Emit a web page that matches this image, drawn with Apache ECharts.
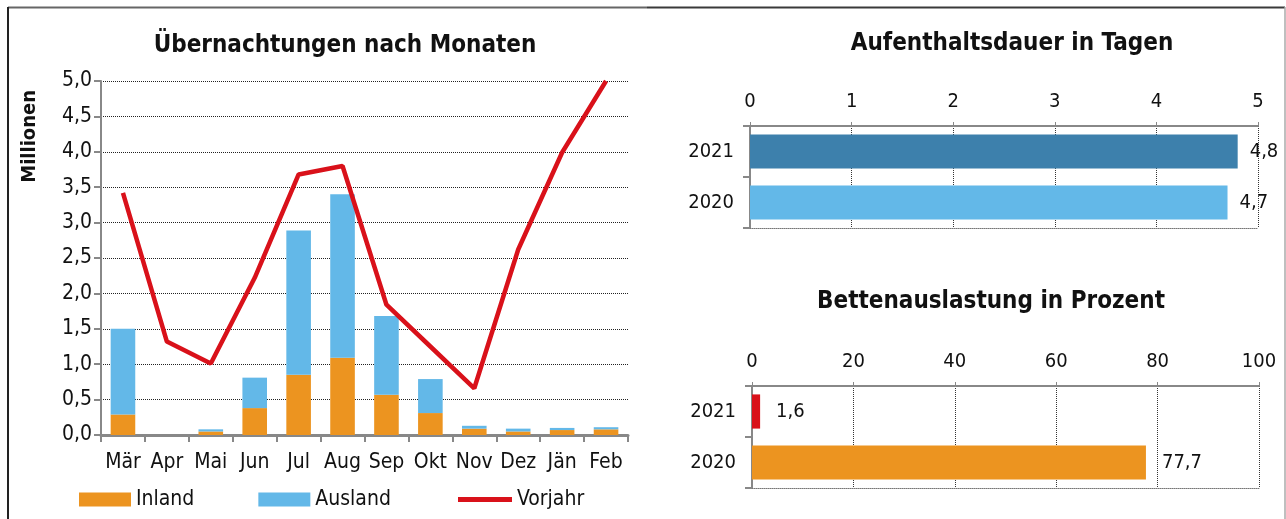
<!DOCTYPE html>
<html><head><meta charset="utf-8">
<script src="https://cdn.jsdelivr.net/npm/echarts@6/dist/echarts.min.js"></script>
<style>html,body{margin:0;padding:0;background:#fff}#c{width:1286px;height:519px}</style>
</head><body><div id="c"></div>
<script>
// ---- data ----
const months = ['Mär','Apr','Mai','Jun','Jul','Aug','Sep','Okt','Nov','Dez','Jän','Feb'];
const inland = [0.29,0,0.05,0.38,0.85,1.09,0.57,0.31,0.09,0.05,0.07,0.08];
const ausland = [1.21,0,0.03,0.43,2.04,2.31,1.11,0.48,0.04,0.04,0.03,0.03];
const vorjahr = [3.42,1.32,1.01,2.22,3.68,3.80,1.84,1.25,0.66,2.62,3.99,5.0];
const years = ['2021','2020'];
const aufenthalt = [4.8,4.7];
const auslastung = [1.6,77.7];

const FONT = '"DejaVu Sans Condensed","DejaVu Sans",sans-serif';
const C_OR = '#EC9420', C_LB = '#63B8E8', C_DB = '#3D80AC', C_RED = '#D9111A';
const comma = v => String(v).replace('.', ',');
const txt = {fontFamily: FONT, color: '#111', fontSize: 20};

const chart = echarts.init(document.getElementById('c'), null, {renderer: 'canvas'});

function hbarAxes(gridIndex, max, interval) {
  return {
    x: [{
      gridIndex, type: 'value', position: 'top', min: 0, max, interval,
      axisLine: {show: true, lineStyle: {color: '#888', width: 2}},
      axisTick: {show: true, inside: false, length: 4, lineStyle: {color: '#888', width: 1}},
      axisLabel: Object.assign({margin: 14}, txt),
      splitLine: {show: true, lineStyle: {type: 'dotted', color: '#333', width: 1}}
    }, {
      gridIndex, type: 'value', position: 'bottom', min: 0, max, interval,
      axisLine: {show: true, lineStyle: {type: 'dotted', color: '#777', width: 1}},
      axisTick: {show: false}, axisLabel: {show: false}, splitLine: {show: false}
    }],
    y: {
      gridIndex, type: 'category', data: years, inverse: true,
      axisLine: {show: true, lineStyle: {color: '#888', width: 2}},
      axisTick: {show: true, length: 7, lineStyle: {color: '#888', width: 2}},
      axisLabel: Object.assign({margin: 16}, txt)
    }
  };
}
const h1 = hbarAxes(1, 5, 1);
const h2 = hbarAxes(2, 100, 20);
const titleStyle = {fontFamily: FONT, fontSize: 24, fontWeight: 'bold', color: '#111'};

const option = {
  animation: false,
  textStyle: {fontFamily: FONT},
  title: [
    {text: 'Übernachtungen nach Monaten', left: 340, top: 29, textAlign: 'center', textStyle: titleStyle},
    {text: 'Aufenthaltsdauer in Tagen', left: 1007, top: 27, textAlign: 'center', textStyle: titleStyle},
    {text: 'Bettenauslastung in Prozent', left: 986, top: 285, textAlign: 'center', textStyle: titleStyle}
  ],
  legend: [{
    left: 79, top: 489, padding: 0, itemWidth: 52, itemHeight: 14, itemGap: 64,
    textStyle: Object.assign({}, txt, {fontSize: 21}),
    data: [{name: 'Inland', icon: 'rect'}, {name: 'Ausland', icon: 'rect'}]
  }, {
    left: 458, top: 489, padding: 0, itemWidth: 54, itemHeight: 5,
    textStyle: Object.assign({}, txt, {fontSize: 21}),
    data: [{name: 'Vorjahr', icon: 'rect'}]
  }],
  grid: [
    {left: 101, top: 81, width: 527, height: 354},
    {left: 750, top: 126, width: 508, height: 102},
    {left: 752, top: 386, width: 507, height: 102}
  ],
  xAxis: [
    {gridIndex: 0, type: 'category', data: months, boundaryGap: true,
     axisLine: {lineStyle: {color: '#888', width: 3}},
     axisTick: {show: true, length: 7, lineStyle: {color: '#888', width: 2}},
     axisLabel: Object.assign({margin: 17, interval: 0}, txt, {fontSize: 21})},
    h1.x[0], h1.x[1], h2.x[0], h2.x[1]
  ],
  yAxis: [
    {gridIndex: 0, type: 'value', min: 0, max: 5, interval: 0.5,
     axisLine: {show: true, lineStyle: {color: '#888', width: 2}},
     axisTick: {show: true, length: 7, lineStyle: {color: '#888', width: 2}},
     axisLabel: Object.assign({margin: 9, formatter: v => v.toFixed(1).replace('.', ',')}, txt, {fontSize: 21}),
     splitLine: {show: true, lineStyle: {type: 'dotted', color: '#222', width: 1}}},
    h1.y, h2.y
  ],
  series: [
    {name: 'Inland', type: 'bar', stack: 'a', xAxisIndex: 0, yAxisIndex: 0, data: inland,
     barWidth: '56%', itemStyle: {color: C_OR}},
    {name: 'Ausland', type: 'bar', stack: 'a', xAxisIndex: 0, yAxisIndex: 0, data: ausland,
     barWidth: '56%', itemStyle: {color: C_LB}},
    {name: 'Vorjahr', type: 'line', xAxisIndex: 0, yAxisIndex: 0, data: vorjahr,
     symbol: 'none', lineStyle: {color: C_RED, width: 4.5}, itemStyle: {color: C_RED}, z: 5},
    {name: 'Aufenthalt', type: 'bar', xAxisIndex: 1, yAxisIndex: 1, barWidth: '67%',
     data: aufenthalt.map((v, i) => ({value: v, itemStyle: {color: i === 0 ? C_DB : C_LB}})),
     label: Object.assign({show: true, position: 'right', distance: 12, formatter: p => comma(p.value)}, txt)},
    {name: 'Auslastung', type: 'bar', xAxisIndex: 3, yAxisIndex: 2, barWidth: '67%',
     data: auslastung.map((v, i) => ({value: v, itemStyle: {color: i === 0 ? C_RED : C_OR}})),
     label: Object.assign({show: true, position: 'right', distance: 16, formatter: p => comma(p.value)}, txt)}
  ],
  graphic: [
    {type: 'text', left: 20, top: 90, rotation: Math.PI / 2,
     style: {text: 'Millionen', fontFamily: FONT, fontSize: 20, fontWeight: 'bold', fill: '#111'}},
    {type: 'line', shape: {x1: 8, y1: 7.5, x2: 647, y2: 7.5}, style: {stroke: '#666', lineWidth: 2}},
    {type: 'line', shape: {x1: 647, y1: 7.5, x2: 1285, y2: 7.5}, style: {stroke: '#3a3a3a', lineWidth: 2}},
    {type: 'line', shape: {x1: 8, y1: 7, x2: 8, y2: 519}, style: {stroke: '#222', lineWidth: 2}},
    {type: 'line', shape: {x1: 1285, y1: 7, x2: 1285, y2: 519}, style: {stroke: '#aaa', lineWidth: 1.5}}
  ]
};
chart.setOption(option);
</script>
</body></html>
